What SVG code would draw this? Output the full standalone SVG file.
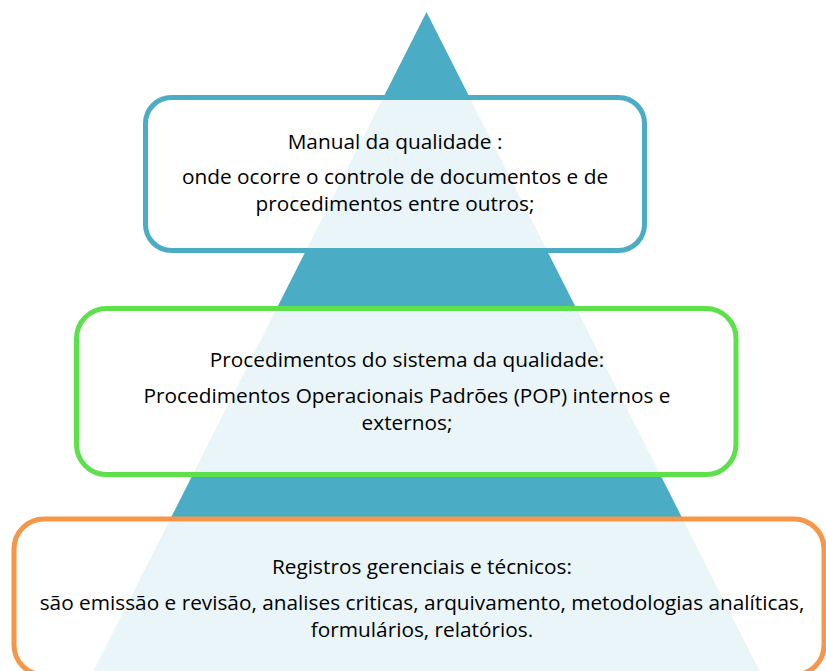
<svg xmlns="http://www.w3.org/2000/svg" width="826" height="671" viewBox="0 0 826 671">
<style>
  .box { fill: #ffffff; fill-opacity: 0.88; stroke-width: 5; }
  .t { font-family: "Open Sans", "Liberation Sans", sans-serif; font-size: 20.8px; fill: #000000; text-anchor: middle; }
</style>
<rect x="0" y="0" width="826" height="671" fill="#ffffff"/>
<g id="pyramid">
  <polygon points="426.5,12 759.5,671 93.5,671" fill="#4BACC6"/>
</g>
<g id="node-manual">
  <rect class="box" x="145.5" y="97.5" width="499" height="153" rx="26" ry="26" stroke="#4BACC6"/>
  <text class="t" x="395" y="149">Manual da qualidade :</text>
  <text class="t" x="395" y="184">onde ocorre o controle de documentos e de</text>
  <text class="t" x="395" y="211">procedimentos entre outros;</text>
</g>
<g id="node-procedimentos">
  <rect class="box" x="76.5" y="308.5" width="659.5" height="166" rx="30" ry="30" stroke="#5CE14B"/>
  <text class="t" x="407" y="367">Procedimentos do sistema da qualidade:</text>
  <text class="t" x="407" y="403">Procedimentos Operacionais Padrões (POP) internos e</text>
  <text class="t" x="407" y="430">externos;</text>
</g>
<g id="node-registros">
  <rect class="box" x="14" y="519" width="810" height="156" rx="30" ry="30" stroke="#F79646"/>
  <text class="t" x="422" y="574">Registros gerenciais e técnicos:</text>
  <text class="t" x="422" y="610">são emissão e revisão, analises criticas, arquivamento, metodologias analíticas,</text>
  <text class="t" x="422" y="637">formulários, relatórios.</text>
</g>
<g id="connectors"></g>
</svg>
